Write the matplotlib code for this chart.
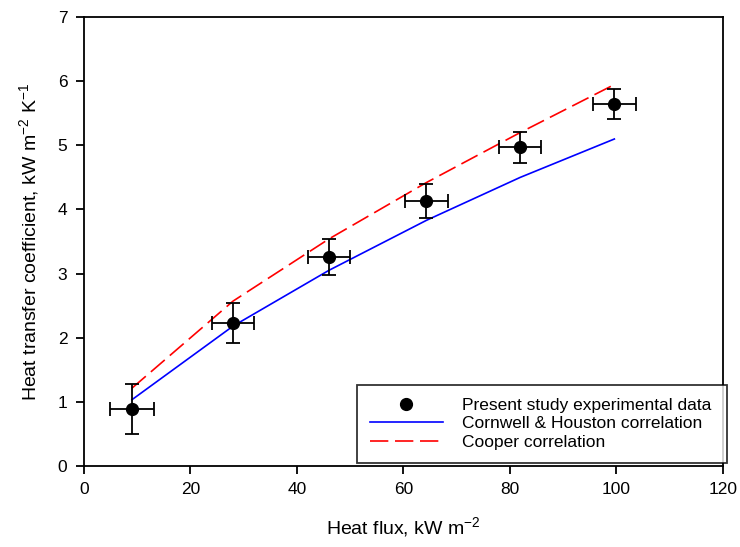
import matplotlib
matplotlib.use("Agg")
import matplotlib.pyplot as plt
from matplotlib.lines import Line2D

plt.rcParams['font.family'] = ['Liberation Sans', 'DejaVu Sans']
plt.rcParams['mathtext.fontset'] = 'custom'
plt.rcParams['mathtext.rm'] = 'Liberation Sans'
plt.rcParams['mathtext.default'] = 'regular'

# experimental data (heat flux kW/m2, HTC kW/m2K) with error bars
q_exp = [9.0, 28.0, 46.0, 64.3, 81.9, 99.6]
h_exp = [0.88, 2.23, 3.26, 4.13, 4.97, 5.65]
q_err = [4.1, 4.0, 4.0, 4.0, 4.0, 4.1]
h_err = [0.39, 0.31, 0.28, 0.26, 0.24, 0.23]

# correlations
q_corr = [9.0, 28.0, 46.0, 64.3, 81.9, 99.6]
h_cornwell = [1.03, 2.18, 3.05, 3.83, 4.50, 5.10]
h_cooper = [1.21, 2.57, 3.54, 4.42, 5.20, 5.95]

fig = plt.figure(figsize=(7.4, 5.47), dpi=100)
ax = fig.add_axes([0.1135, 0.1486, 0.8635, 0.8198])

ax.errorbar(q_exp, h_exp, xerr=q_err, yerr=h_err, fmt='o', color='black',
            markersize=8.5, elinewidth=1.3, capsize=5, capthick=1.3, zorder=3)
ax.plot(q_corr, h_cornwell, color='blue', lw=1.2)
ax.plot(q_corr, h_cooper, color='red', lw=1.2, dashes=(11, 4))

ax.set_xlim(0, 120)
ax.set_ylim(0, 7)
ax.set_xticks(range(0, 121, 20))
ax.set_yticks(range(0, 8))
ax.tick_params(direction='out', length=6, width=1.3, labelsize=12.5, pad=6)
for s in ax.spines.values():
    s.set_linewidth(1.3)

ax.set_xlabel('Heat flux, kW m$^{-2}$', fontsize=14, labelpad=13)
ax.set_ylabel('Heat transfer coefficient, kW m$^{-2}$ K$^{-1}$', fontsize=14, labelpad=12)

handles = [
    Line2D([], [], ls='none', marker='o', color='black', markersize=8.5),
    Line2D([], [], color='blue', lw=1.2),
    Line2D([], [], color='red', lw=1.2, dashes=(11, 4)),
]
labels = ['Present study experimental data', 'Cornwell & Houston correlation', 'Cooper correlation']
leg = ax.legend(handles, labels, loc='lower left', bbox_to_anchor=(0.427, 0.006, 0.58, 0.19),
                mode='expand', fontsize=12.5, frameon=True, fancybox=False,
                handlelength=4.2, borderpad=0.75, labelspacing=0.2,
                borderaxespad=0, handletextpad=1.1)
leg.get_frame().set_edgecolor('black')
leg.get_frame().set_linewidth(1.3)

fig.savefig('out.png', dpi=100)
